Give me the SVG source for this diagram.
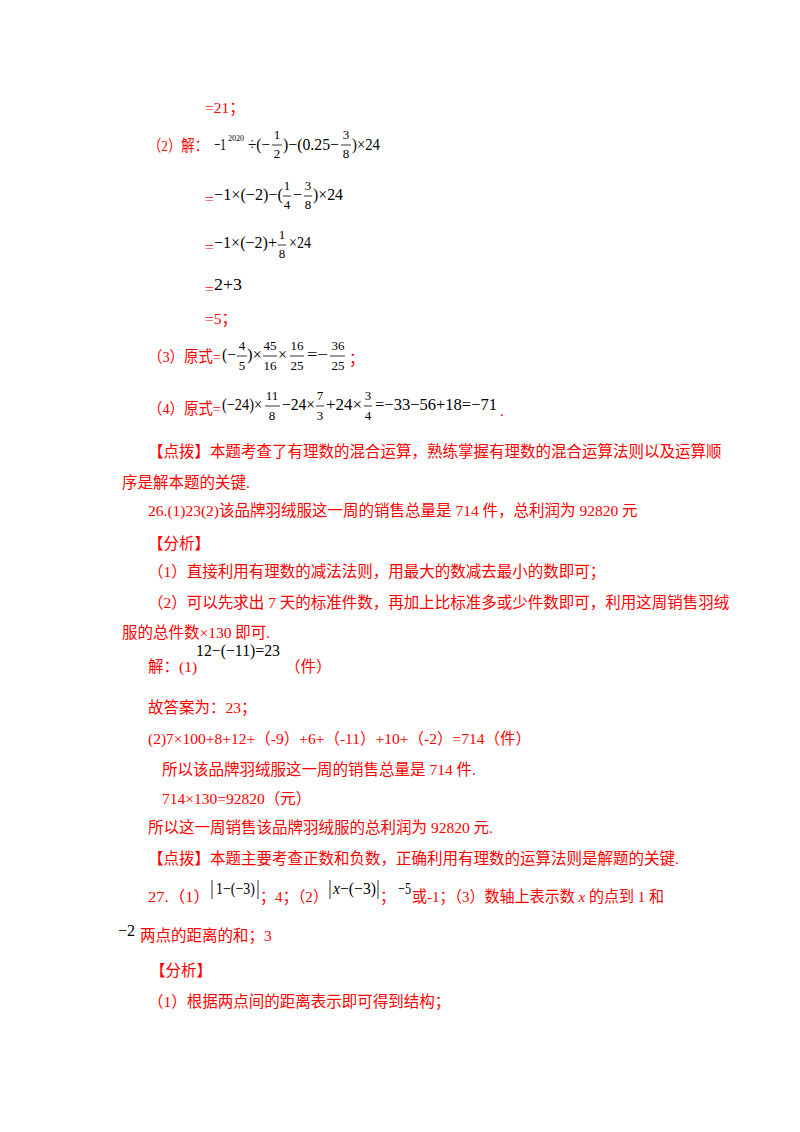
<svg xmlns="http://www.w3.org/2000/svg" width="800" height="1132" viewBox="0 0 800 1132">
<style>
text{font-family:"Liberation Serif","Noto Sans CJK SC",serif;font-size:15.5px}
.r{fill:#ff0000}
.m{font-family:"Liberation Serif",serif;font-size:16px;fill:#000}
.f{font-family:"Liberation Serif",serif;font-size:13px;fill:#000;text-anchor:middle}
.fr{stroke:#000;stroke-width:0.8}
</style>
<rect width="800" height="1132" fill="#fff"/>
<g id="content">
<text class="r" x="205" y="113">=21；</text>
<text class="r" x="148" y="151" textLength="60" lengthAdjust="spacingAndGlyphs">（2）解：</text>
<text class="m" x="214" y="150" textLength="12" lengthAdjust="spacingAndGlyphs">−1</text>
<text class="m" style="font-size:9px" x="228" y="141" textLength="16" lengthAdjust="spacingAndGlyphs">2020</text>
<text class="m" x="248" y="150" textLength="22" lengthAdjust="spacingAndGlyphs">÷(−</text>
<text class="f" x="277" y="139">1</text><line class="fr" x1="272" y1="145" x2="282" y2="145"/><text class="f" x="277" y="158">2</text>
<text class="m" x="283" y="150" textLength="56" lengthAdjust="spacingAndGlyphs">)−(0.25−</text>
<text class="f" x="346" y="139">3</text><line class="fr" x1="341" y1="145" x2="351" y2="145"/><text class="f" x="346" y="158">8</text>
<text class="m" x="352" y="150" textLength="28" lengthAdjust="spacingAndGlyphs">)×24</text>

<text class="r" x="205" y="204">=</text>
<text class="m" x="214" y="200" textLength="69" lengthAdjust="spacingAndGlyphs">−1×(−2)−(</text>
<text class="f" x="287" y="190">1</text><line class="fr" x1="283" y1="196" x2="291" y2="196"/><text class="f" x="287" y="209">4</text>
<text class="m" x="293" y="200">−</text>
<text class="f" x="308" y="190">3</text><line class="fr" x1="304" y1="196" x2="312" y2="196"/><text class="f" x="308" y="209">8</text>
<text class="m" x="313" y="200" textLength="30" lengthAdjust="spacingAndGlyphs">)×24</text>

<text class="r" x="205" y="252">=</text>
<text class="m" x="214" y="248" textLength="63" lengthAdjust="spacingAndGlyphs">−1×(−2)+</text>
<text class="f" x="282" y="239">1</text><line class="fr" x1="278" y1="245" x2="286" y2="245"/><text class="f" x="282" y="258">8</text>
<text class="m" x="289" y="248" textLength="22" lengthAdjust="spacingAndGlyphs">×24</text>

<text class="r" x="205" y="294">=</text>
<text class="m" x="214" y="290" textLength="28" lengthAdjust="spacingAndGlyphs">2+3</text>
<text class="r" x="205" y="324">=5；</text>

<text class="r" x="148" y="362" textLength="73" lengthAdjust="spacingAndGlyphs">（3）原式=</text>
<text class="m" x="222" y="360" textLength="14" lengthAdjust="spacingAndGlyphs">(−</text>
<text class="f" x="242" y="350">4</text><line class="fr" x1="237" y1="356" x2="247" y2="356"/><text class="f" x="242" y="370">5</text>
<text class="m" x="247" y="360" textLength="15" lengthAdjust="spacingAndGlyphs">)×</text>
<text class="f" x="270" y="350">45</text><line class="fr" x1="263" y1="356" x2="277" y2="356"/><text class="f" x="270" y="370">16</text>
<text class="m" x="278" y="360">×</text>
<text class="f" x="297" y="350">16</text><line class="fr" x1="290" y1="356" x2="304" y2="356"/><text class="f" x="297" y="370">25</text>
<text class="m" x="307" y="360" textLength="21" lengthAdjust="spacingAndGlyphs">=−</text>
<text class="f" x="338" y="350">36</text><line class="fr" x1="330" y1="356" x2="345" y2="356"/><text class="f" x="338" y="370">25</text>
<text class="r" x="349" y="364">；</text>

<text class="r" x="148" y="414" textLength="73" lengthAdjust="spacingAndGlyphs">（4）原式=</text>
<text class="m" x="222" y="410" textLength="40" lengthAdjust="spacingAndGlyphs">(−24)×</text>
<text class="f" x="272" y="400">11</text><line class="fr" x1="265" y1="406" x2="280" y2="406"/><text class="f" x="272" y="420">8</text>
<text class="m" x="282" y="410" textLength="33" lengthAdjust="spacingAndGlyphs">−24×</text>
<text class="f" x="320" y="400">7</text><line class="fr" x1="316" y1="406" x2="324" y2="406"/><text class="f" x="320" y="420">3</text>
<text class="m" x="326" y="410" textLength="36" lengthAdjust="spacingAndGlyphs">+24×</text>
<text class="f" x="368" y="400">3</text><line class="fr" x1="364" y1="406" x2="372" y2="406"/><text class="f" x="368" y="420">4</text>
<text class="m" x="375" y="410" textLength="122" lengthAdjust="spacingAndGlyphs">=−33−56+18=−71</text>
<text class="r" x="500" y="416">.</text>

<text class="r" x="148" y="457">【点拨】本题考查了有理数的混合运算，熟练掌握有理数的混合运算法则以及运算顺</text>
<text class="r" x="122" y="488">序是解本题的关键.</text>
<text class="r" x="148" y="516">26.(1)23(2)该品牌羽绒服这一周的销售总量是 714 件，总利润为 92820 元</text>
<text class="r" x="148" y="549">【分析】</text>
<text class="r" x="148" y="577">（1）直接利用有理数的减法法则，用最大的数减去最小的数即可；</text>
<text class="r" x="148" y="608">（2）可以先求出 7 天的标准件数，再加上比标准多或少件数即可，利用这周销售羽绒</text>
<text class="r" x="122" y="638">服的总件数×130 即可.</text>
<text class="r" x="148" y="672">解：(1)</text>
<text class="m" x="196" y="656" textLength="84" lengthAdjust="spacingAndGlyphs">12−(−11)=23</text>
<text class="r" x="285" y="672">（件）</text>
<text class="r" x="148" y="713">故答案为：23；</text>
<text class="r" x="148" y="744">(2)7×100+8+12+（-9）+6+（-11）+10+（-2）=714（件）</text>
<text class="r" x="162" y="775">所以该品牌羽绒服这一周的销售总量是 714 件.</text>
<text class="r" x="162" y="804">714×130=92820（元）</text>
<text class="r" x="148" y="833">所以这一周销售该品牌羽绒服的总利润为 92820 元.</text>
<text class="r" x="148" y="864">【点拨】本题主要考查正数和负数，正确利用有理数的运算法则是解题的关键.</text>
<text class="r" x="148" y="902" textLength="62" lengthAdjust="spacingAndGlyphs">27.（1）</text>
<line class="fr" x1="212" y1="880" x2="212" y2="899"/>
<text class="m" x="216" y="894" textLength="39" lengthAdjust="spacingAndGlyphs">1−(−3)</text>
<line class="fr" x1="258" y1="880" x2="258" y2="899"/>
<text class="r" x="260" y="902" textLength="68" lengthAdjust="spacingAndGlyphs">；4；（2）</text>
<line class="fr" x1="330" y1="880" x2="330" y2="899"/>
<text class="m" x="333" y="894" textLength="43" lengthAdjust="spacingAndGlyphs"><tspan font-style="italic">x</tspan>−(−3)</text>
<line class="fr" x1="378" y1="880" x2="378" y2="899"/>
<text class="r" x="380" y="902">；</text>
<text class="m" x="398" y="894" textLength="13" lengthAdjust="spacingAndGlyphs">−5</text>
<text class="r" x="412" y="902" textLength="252" lengthAdjust="spacingAndGlyphs">或-1；（3）数轴上表示数 <tspan font-style="italic">x</tspan> 的点到 1 和</text>
<text class="m" x="118" y="936">−2</text>
<text class="r" x="140" y="941">两点的距离的和；3</text>
<text class="r" x="150" y="976">【分析】</text>
<text class="r" x="148" y="1007">（1）根据两点间的距离表示即可得到结构；</text>
</g>
</svg>
